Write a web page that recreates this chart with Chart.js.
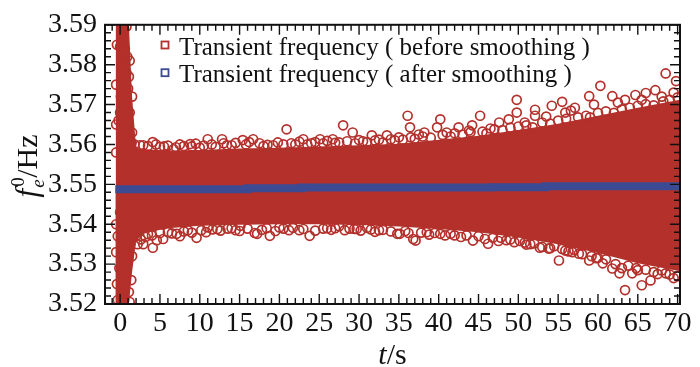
<!DOCTYPE html>
<html>
<head>
<meta charset="utf-8">
<script src="https://cdn.jsdelivr.net/npm/chart.js@4/dist/chart.umd.min.js"></script>
<style>
  html, body { margin: 0; padding: 0; background: #fff; }
</style>
</head>
<body>
<canvas id="freqChart" width="700" height="367"></canvas>
<script>
// tick labels
const xTicks = [0, 5, 10, 15, 20, 25, 30, 35, 40, 45, 50, 55, 60, 65, 70];
const yTicks = [3.52, 3.53, 3.54, 3.55, 3.56, 3.57, 3.58, 3.59];
const legendLabels = ['Transient frequency ( before smoothing )', 'Transient frequency ( after smoothing )'];

// dense core of the raw frequency cloud (upper / lower edge)
const envT     = [-0.6, -0.55, 1.1, 1.5, 2.0, 3, 6, 10, 15, 20, 25, 30, 35, 40, 45, 50, 55, 60, 65, 70.3];
const envUpper = [3.549, 3.59, 3.59, 3.572, 3.5592, 3.5588, 3.5585, 3.5586, 3.559, 3.5592, 3.5595, 3.5598, 3.5602, 3.5612, 3.5622, 3.5636, 3.5652, 3.5672, 3.5692, 3.5712];
const envLower = [3.549, 3.52, 3.52, 3.528, 3.5358, 3.5378, 3.539, 3.5396, 3.5399, 3.54, 3.54, 3.5398, 3.5394, 3.5388, 3.538, 3.5367, 3.535, 3.5328, 3.5302, 3.5282];

// raw samples (before smoothing): start-up transient near t = 0
const startT = [0.5, 0.2, 0.6, 0.9, 0.3, 0.8, 0.4, 1.0, 0.1, 0.6, 1.2, -0.2, 0.9, 0.3, 1.4, 0.0, 1.1, -0.3, 1.3, 0.2, 1.0, -0.1, 0.7, 0.3, 1.1, 0.5,
  -0.4, 1.2, -0.5, 1.5, -0.5, 1.5, -0.5, -0.5, 1.5, -0.5, -0.4, 1.4, -0.3, 1.2, 0.8, 0.0, 1.1, 0.0];
const startV = [3.589, 3.586, 3.584, 3.582, 3.58, 3.578, 3.576, 3.574, 3.572, 3.57, 3.568, 3.566, 3.564, 3.562, 3.5605, 3.543, 3.541, 3.537, 3.535, 3.533, 3.531, 3.529, 3.527, 3.525, 3.523, 3.521,
  3.585, 3.581, 3.575, 3.572, 3.565, 3.563, 3.558, 3.54, 3.532, 3.533, 3.525, 3.526, 3.521, 3.5205, 3.5895, 3.5845, 3.577, 3.568];

// raw samples along / above the upper edge
const upperT = [1.8, 2.9, 4.1, 5.5, 6.7, 8.8, 10, 11.0, 12.8, 13.4, 15.4, 16.7, 18, 19.2, 20.9, 22, 23.0, 24, 25.1, 26.7, 27.5, 28.0, 29.2, 30.5,
  31.6, 32.5, 33.5, 34.5, 35, 36.1, 36.4, 37.5, 38.2, 39.8, 40.2, 41, 42.5, 43.8, 44.2, 45.2, 46.5, 47.6, 48.8, 49.8, 49.8, 50.8,
  52.1, 52.1, 53.5, 54.2, 55.5, 55.9, 56.6, 57.1, 58.9, 59.5, 60.3, 61.8, 62.5, 63.4, 64.7, 65.5, 66.0, 67.2, 68.0, 68.5, 69.5, 69.8,
  2.5, 3.5, 4.5, 5, 6, 7, 7.5, 8, 9, 9.5, 10.5, 11.5, 12, 13, 14, 14.5, 15.8, 16.2, 17.5, 18.5, 19.8, 20.5, 21.5, 22.5, 23.5, 24.5,
  25.5, 26, 27, 28.5, 29.5, 30, 31, 32, 33, 34, 35.5, 36.5, 37, 38, 39, 40.5, 41.5, 42, 43, 44, 45.5, 46, 47, 48, 49, 50, 51, 51.8,
  53, 54, 55, 56, 57.5, 58.5, 59, 60, 61, 62, 63, 64, 65, 66, 67, 68.2, 69, 70];
const upperV = [3.56, 3.5598, 3.5606, 3.5595, 3.5588, 3.5601, 3.5592, 3.5613, 3.5613, 3.5598, 3.5611, 3.5613, 3.5596, 3.5598, 3.5638, 3.56, 3.5613, 3.5603, 3.5613, 3.5613, 3.5605, 3.5648, 3.563, 3.5608,
  3.5623, 3.5612, 3.5623, 3.561, 3.5618, 3.5672, 3.5643, 3.5625, 3.563, 3.5643, 3.5663, 3.563, 3.5643, 3.5635, 3.5648, 3.5672, 3.564, 3.5655, 3.5663, 3.5712, 3.568, 3.5655,
  3.5672, 3.5687, 3.567, 3.5697, 3.5707, 3.568, 3.5685, 3.5692, 3.5721, 3.57, 3.5747, 3.5721, 3.5705, 3.5712, 3.5724, 3.5712, 3.5729, 3.5736, 3.572, 3.5778, 3.573, 3.5759,
  3.5598, 3.5596, 3.56, 3.5594, 3.5597, 3.5593, 3.56, 3.5596, 3.5595, 3.5602, 3.5597, 3.56, 3.5594, 3.5603, 3.5598, 3.5604, 3.56, 3.5606, 3.5603, 3.5599, 3.5605, 3.56, 3.5603, 3.5607, 3.56, 3.5606,
  3.5603, 3.5609, 3.5604, 3.5608, 3.5603, 3.5611, 3.5606, 3.561, 3.5605, 3.5613, 3.5612, 3.5618, 3.5614, 3.562, 3.5617, 3.5624, 3.562, 3.5628, 3.5625, 3.5631, 3.5632, 3.5628, 3.5638, 3.5636, 3.5642, 3.5645, 3.5648, 3.5643,
  3.5655, 3.5652, 3.566, 3.5664, 3.5668, 3.5672, 3.5668, 3.5679, 3.5683, 3.5679, 3.5688, 3.5692, 3.5697, 3.5701, 3.5698, 3.5708, 3.5712, 3.5718];

// raw samples along / below the lower edge
const lowerT = [2.0, 2.9, 3.5, 4.1, 5.4, 6.0, 7.1, 8.5, 9.6, 11, 12.2, 14, 15.0, 15.1, 16.9, 17.2, 18.8, 20, 21.7, 22.5, 23.8, 26, 27.5, 29.4,
  29.7, 31.0, 32.5, 34.8, 35.1, 36.8, 37.1, 38.5, 40.2, 42, 44.3, 45, 46.2, 47.8, 49, 50.8, 51.5, 52.7, 53.8, 54.5, 55.1, 55.9,
  56.8, 57.6, 58.9, 59.8, 60.6, 61.8, 62.7, 63.0, 63.4, 64.3, 65.0, 65.5, 66.6, 67.5, 68.5, 69.5,
  2.2, 2.6, 3.2, 4.0, 4.6, 5, 6.5, 7.5, 8, 9, 10.2, 10.8, 11.6, 12.6, 13.5, 14.5, 16, 17.8, 18.4, 19.5, 20.5, 21.2, 23, 24.5, 25.5,
  26.5, 27, 28.2, 28.8, 30.2, 31.5, 32, 33, 34, 35.8, 36.2, 37.8, 38.8, 39.5, 40.8, 41.5, 42.8, 43.5, 45.8, 46.8, 47.5, 48.5, 49.5,
  50.2, 51, 52, 53, 54, 55.5, 56.3, 57, 58, 59.2, 60, 61, 62.2, 63.8, 64.8, 66, 67, 68, 69, 70];
const lowerV = [3.537, 3.535, 3.5375, 3.5341, 3.5363, 3.538, 3.5376, 3.5385, 3.5366, 3.5392, 3.5388, 3.539, 3.5383, 3.5396, 3.5378, 3.5376, 3.5371, 3.5392, 3.5391, 3.5385, 3.5371, 3.539, 3.5395, 3.5388,
  3.5388, 3.5391, 3.5385, 3.5376, 3.5376, 3.5363, 3.5359, 3.538, 3.5376, 3.5372, 3.5359, 3.537, 3.5351, 3.5366, 3.5362, 3.5354, 3.535, 3.5341, 3.5339, 3.5345, 3.5309, 3.5334,
  3.533, 3.5326, 3.5309, 3.5315, 3.5302, 3.5289, 3.5277, 3.529, 3.5235, 3.5277, 3.5285, 3.5247, 3.5259, 3.5275, 3.5277, 3.5265,
  3.535, 3.5362, 3.5368, 3.5372, 3.536, 3.5378, 3.5377, 3.537, 3.5382, 3.5379, 3.5385, 3.538, 3.5387, 3.5384, 3.5389, 3.5385, 3.5389, 3.5386, 3.539, 3.5383, 3.5389, 3.5385, 3.5388, 3.5384, 3.5389,
  3.5386, 3.539, 3.5385, 3.5389, 3.5384, 3.5387, 3.5381, 3.5386, 3.5382, 3.5383, 3.5378, 3.5379, 3.5374, 3.5378, 3.5372, 3.5376, 3.5368, 3.5372, 3.5363, 3.5366, 3.5358, 3.536, 3.5355,
  3.5358, 3.5349, 3.5352, 3.5343, 3.534, 3.5338, 3.5332, 3.5336, 3.5325, 3.532, 3.5316, 3.5312, 3.53, 3.5296, 3.529, 3.5286, 3.528, 3.5284, 3.5274, 3.527];

// smoothed frequency (after smoothing), stepwise
const smoothT = [-0.6, 16.0, 22.8, 46.6, 53.4, 70.3];
const smoothV = [3.5488, 3.549, 3.5492, 3.5493, 3.5495, 3.5495];

const RED = '#b3302b';
const BLUE = '#3c4a93';
const FONT = '"Liberation Serif", "Times New Roman", serif';

const toPoints = (xs, ys) => xs.map((x, i) => ({ x: x, y: ys[i] }));
const rawPoints = toPoints(startT, startV).concat(toPoints(upperT, upperV), toPoints(lowerT, lowerV));

// frame + inward ticks on all four sides, legend, axis titles
const decorations = {
    id: 'decorations',
    afterDraw(chart) {
        const { ctx, chartArea: a, scales: { x, y } } = chart;
        ctx.save();
        ctx.strokeStyle = '#111';
        ctx.lineWidth = 1.4;
        ctx.beginPath();
        for (let t = -1; t <= 70; t++) {
            const px = x.getPixelForValue(t);
            const len = t % 5 === 0 ? 10 : 6;
            ctx.moveTo(px, a.bottom); ctx.lineTo(px, a.bottom - len);
            ctx.moveTo(px, a.top); ctx.lineTo(px, a.top + len);
        }
        for (let k = 0; k <= 35; k++) {
            const py = y.getPixelForValue(3.52 + k * 0.002);
            const len = k % 5 === 0 ? 10 : 6;
            ctx.moveTo(a.left, py); ctx.lineTo(a.left + len, py);
            ctx.moveTo(a.right, py); ctx.lineTo(a.right - len, py);
        }
        ctx.stroke();
        ctx.lineWidth = 2;
        ctx.strokeRect(a.left, a.top, a.right - a.left, a.bottom - a.top);

        // legend
        ctx.font = '25px ' + FONT;
        ctx.textBaseline = 'alphabetic';
        ctx.fillStyle = '#111';
        [RED, BLUE].forEach((c, i) => {
            const my = 45 + i * 27.7;
            ctx.strokeStyle = c;
            ctx.lineWidth = 1.8;
            ctx.strokeRect(161.5, my - 3.5, 7, 7);
            ctx.fillText(legendLabels[i], 179, my + 9.5);
        });

        // x title: t/s
        ctx.font = 'italic 30px ' + FONT;
        const tw = ctx.measureText('t').width;
        ctx.font = '30px ' + FONT;
        const sw = ctx.measureText('/s').width;
        const sx = (a.left + a.right) / 2 - (tw + sw) / 2;
        ctx.font = 'italic 30px ' + FONT;
        ctx.fillText('t', sx, 364);
        ctx.font = '30px ' + FONT;
        ctx.fillText('/s', sx + tw, 364);

        // y title: f_e^0/Hz
        ctx.translate(37, 166);
        ctx.rotate(-Math.PI / 2);
        ctx.font = 'italic 31px ' + FONT;
        const fw = ctx.measureText('f').width;
        ctx.font = '30px ' + FONT;
        const hw = ctx.measureText('/Hz').width;
        const scw = 11;
        const ox = -(fw + scw + hw) / 2;
        ctx.font = 'italic 31px ' + FONT;
        ctx.fillText('f', ox, 0);
        ctx.font = 'italic 19px ' + FONT;
        ctx.fillText('e', ox + fw + 1, 7);
        ctx.font = '19px ' + FONT;
        ctx.fillText('0', ox + fw + 2, -13);
        ctx.font = '30px ' + FONT;
        ctx.fillText('/Hz', ox + fw + scw, 0);
        ctx.restore();
    }
};

new Chart(document.getElementById('freqChart'), {
    type: 'line',
    data: {
        datasets: [
            {
                label: legendLabels[1],
                data: toPoints(smoothT, smoothV),
                borderColor: BLUE,
                borderWidth: 8,
                borderCapStyle: 'butt',
                stepped: true,
                pointRadius: 0,
                fill: false,
                order: 0
            },
            {
                label: legendLabels[0],
                data: rawPoints,
                showLine: false,
                pointRadius: 4.5,
                pointBorderWidth: 1.7,
                pointBorderColor: RED,
                pointBackgroundColor: 'rgba(0,0,0,0)',
                order: 1
            },
            {
                label: 'core upper',
                data: toPoints(envT, envUpper),
                borderWidth: 0,
                pointRadius: 0,
                backgroundColor: RED,
                fill: '+1',
                order: 2
            },
            {
                label: 'core lower',
                data: toPoints(envT, envLower),
                borderWidth: 0,
                pointRadius: 0,
                fill: false,
                order: 3
            }
        ]
    },
    options: {
        responsive: false,
        animation: false,
        layout: { padding: { top: 21, right: 20, left: 0, bottom: 0 } },
        plugins: {
            legend: { display: false },
            tooltip: { enabled: false }
        },
        scales: {
            x: {
                type: 'linear',
                min: -1.9,
                max: 70.3,
                afterBuildTicks: (scale) => { scale.ticks = xTicks.map(v => ({ value: v })); },
                afterFit: (scale) => { scale.height = 63; },
                grid: { display: false, drawTicks: false },
                border: { display: false },
                ticks: {
                    padding: 3,
                    maxRotation: 0,
                    autoSkip: false,
                    color: '#111',
                    font: { family: FONT, size: 28 }
                }
            },
            y: {
                type: 'linear',
                min: 3.52,
                max: 3.59,
                afterBuildTicks: (scale) => { scale.ticks = yTicks.map(v => ({ value: v })); },
                afterFit: (scale) => { scale.width = 105; },
                grid: { display: false, drawTicks: false },
                border: { display: false },
                ticks: {
                    padding: 8,
                    autoSkip: false,
                    color: '#111',
                    font: { family: FONT, size: 28 },
                    callback: function(value) {
                        return value.toFixed(2);
                    }
                }
            }
        }
    },
    plugins: [decorations]
});
</script>
</body>
</html>
